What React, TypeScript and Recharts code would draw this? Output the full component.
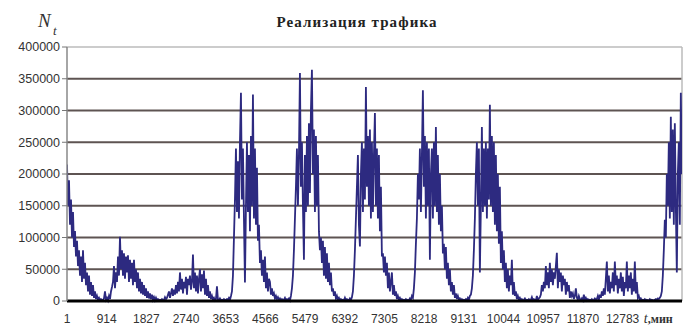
import { LineChart, Line, XAxis, YAxis, CartesianGrid, ReferenceLine } from 'recharts';

// traffic samples, thousands, one sample every STEP minutes
const STEP = 23;

const seg1 = [
  215, 150, 190, 120, 160, 100, 140, 85, 110, 70,
  95, 55, 80, 40, 70, 30, 80, 35, 60, 25,
  45, 15, 40, 10, 30, 8, 25, 5, 15, 3,
  8, 2, 5, 1, 3, 1, 2, 4, 15, 2,
  5, 1, 8, 3, 15, 22,
];
const seg2 = [
  30, 55, 20, 45, 30, 70, 40, 101, 50, 80,
  40, 75, 35, 70, 45, 72, 30, 65, 35, 60,
  25, 65, 30, 50, 20, 45, 15, 35, 12, 30,
  10, 25, 8, 20, 5, 15, 4, 12, 3, 10,
  2, 6, 1, 5, 1, 3, 1, 2, 1, 3,
  1, 2, 6, 3,
];
const seg3 = [
  5, 10, 15, 5, 12, 20, 8, 18, 10, 25,
  12, 30, 15, 45, 18, 35, 12, 30, 20, 38,
  10, 35, 25, 40, 18, 30, 73, 20, 45, 15,
  40, 12, 35, 50, 15, 42, 20, 48, 10, 35,
  8, 25, 5, 15, 3, 8, 2, 5, 1, 3,
  23, 2, 1, 4, 1, 2, 1, 3, 1, 2,
  3, 2, 5, 2, 8, 15,
];
const seg4 = [
  40, 100, 160, 240, 140, 220, 130, 250, 328, 160,
  240, 130, 29, 150, 250, 140, 230, 110, 260, 150,
  325, 130, 240, 120, 210, 95, 120, 60, 80, 40,
  65, 30, 70, 20, 45, 15, 35, 30, 10, 20,
  8, 12, 4, 8, 3, 6, 2, 4, 1, 3,
  1, 2, 5, 1, 3, 2, 4, 1, 8, 20,
];
const seg5 = [
  40, 80, 130, 180, 240, 150, 230, 359, 180, 250,
  150, 65, 230, 140, 260, 150, 280, 170, 300, 364,
  200, 270, 140, 260, 150, 230, 110, 80, 100, 60,
  95, 40, 85, 35, 75, 30, 60, 25, 45, 15,
  20, 8, 15, 4, 8, 2, 5, 1, 3, 1,
  2, 1, 5, 1, 3, 2, 1, 4, 2, 6,
  15, 40, 80, 130,
];
const seg6 = [
  180, 230, 120, 86, 200, 250, 140, 240, 160, 337,
  180, 260, 150, 270, 130, 250, 140, 230, 296, 150,
  240, 130, 230, 110, 180, 70, 75, 45, 70, 40,
  60, 20, 45, 15, 30, 45, 10, 25, 8, 15,
  3, 8, 2, 5, 1, 3, 1, 2, 1, 3,
  1, 2, 1, 4, 2, 8, 5, 20, 45, 90,
];
const seg7 = [
  130, 200, 160, 240, 140, 230, 332, 180, 260, 130,
  250, 150, 240, 65, 200, 240, 130, 250, 150, 274,
  140, 230, 120, 200, 110, 150, 75, 90, 50, 85,
  35, 60, 25, 50, 15, 30, 10, 25, 5, 12,
  3, 8, 2, 4, 1, 3, 1, 2, 1, 3,
  1, 5, 2, 8, 10, 20, 40, 80,
];
const seg8 = [
  130, 200, 250, 150, 240, 45, 150, 274, 140, 240,
  150, 250, 130, 240, 160, 309, 150, 260, 140, 250,
  120, 230, 110, 200, 90, 180, 60, 110, 50, 80,
  30, 60, 20, 50, 15, 40, 25, 65, 10, 30,
  8, 15, 3, 8, 2, 5, 1, 3, 1, 2,
  4, 1, 2, 1, 3, 1, 2, 6, 1, 3,
  2, 1, 8, 2, 4, 6,
];
const seg9 = [
  10, 25, 15, 30, 20, 55, 25, 45, 20, 60,
  30, 50, 25, 45, 35, 55, 76, 20, 50, 30,
  45, 15, 40, 25, 35, 10, 30, 15, 25, 5,
  15, 8, 12, 3, 8, 20, 5, 2, 8, 3,
  1, 4, 1, 10, 2, 5, 1, 3, 1, 2,
  1, 3, 1, 2, 4, 2,
];
const seg10 = [
  3, 8, 2, 10, 5, 15, 8, 20, 10, 35,
  62, 15, 40, 12, 30, 20, 45, 15, 62, 25,
  40, 12, 35, 20, 45, 15, 38, 8, 30, 20,
  62, 15, 40, 20, 45, 10, 35, 15, 62, 12,
  30, 5, 8, 2, 4, 1, 2, 1, 3, 1,
  2, 1, 1, 3, 1, 2, 1, 1, 2, 3,
  2, 4, 3, 5, 8, 15, 40, 80, 128, 100,
  200, 150, 250, 130, 290, 140, 270, 120, 280, 150,
  45, 200, 250, 120, 328, 200,
];

const tickMinutes = [1, 914, 1827, 2740, 3653, 4566, 5479, 6392, 7305, 8218, 9131, 10044, 10957, 11870, 12783];
const unitTick = 13696;
const yTicks = [0, 50000, 100000, 150000, 200000, 250000, 300000, 350000, 400000];

const traffic = [seg1, seg2, seg3, seg4, seg5, seg6, seg7, seg8, seg9, seg10].flat();
const data = traffic.map((v, i) => ({ t: 1 + i * STEP, n: v * 1000 }));

const XTick = (props: any) => {
  const { x, y, payload } = props;
  if (payload.value === unitTick) {
    return (
      <text x={x - 4} y={y + 14} textAnchor="middle" fontSize={12} fill="#333" fontFamily="Liberation Serif">
        <tspan fontStyle="italic" fontSize={14}>t</tspan>
        <tspan fontWeight="bold">,мин</tspan>
      </text>
    );
  }
  return (
    <text x={x} y={y + 14} textAnchor="middle" fontSize={12} fill="#333" fontFamily="Liberation Sans">
      {payload.value}
    </text>
  );
};

export default function App() {
  return (
    <div style={{ position: 'absolute', left: 0, top: 0, width: 696, height: 329, background: '#fff' }}>
      <svg width={696} height={40} style={{ position: 'absolute', left: 0, top: 0 }}>
        <text x={357} y={27} textAnchor="middle" fontSize={15} letterSpacing={1.1} fontWeight="bold" fontFamily="Liberation Serif" fill="#222">
          Реализация трафика
        </text>
        <text x={38} y={27} fontSize={19} fontStyle="italic" fontFamily="Liberation Serif" fill="#333">N</text>
        <text x={53} y={35} fontSize={13} fontStyle="italic" fontFamily="Liberation Serif" fill="#333">t</text>
      </svg>
      <LineChart
        width={696}
        height={329}
        data={data}
        margin={{ top: 47, right: 14, bottom: 0, left: 0 }}
        style={{ position: 'absolute', left: 0, top: 0 }}
      >
        <CartesianGrid
          vertical={false}
          horizontalValues={[50000, 100000, 150000, 200000, 250000, 300000, 350000]}
          stroke="#5e5452"
          strokeWidth={2}
        />
        <ReferenceLine y={400000} stroke="#bbbbbb" strokeWidth={1.5} />
        <ReferenceLine x={14150} stroke="#bbbbbb" strokeWidth={1.5} />
        <XAxis
          type="number"
          dataKey="t"
          domain={[1, 14150]}
          ticks={[...tickMinutes, unitTick]}
          interval={0}
          height={28}
          tick={<XTick />}
          tickLine={false}
          axisLine={{ stroke: '#000', strokeWidth: 3 }}
          allowDataOverflow
        />
        <YAxis
          type="number"
          domain={[0, 400000]}
          ticks={yTicks}
          interval={0}
          width={67}
          tick={{ fill: '#333', fontSize: 12.5, fontFamily: 'Liberation Sans' }}
          tickLine={{ stroke: '#777' }}
          tickSize={5}
          axisLine={{ stroke: '#888', strokeWidth: 1.5 }}
        />
        <Line
          type="linear"
          dataKey="n"
          stroke="#2d2a80"
          strokeWidth={1.8}
          dot={false}
          isAnimationActive={false}
        />
      </LineChart>
    </div>
  );
}
